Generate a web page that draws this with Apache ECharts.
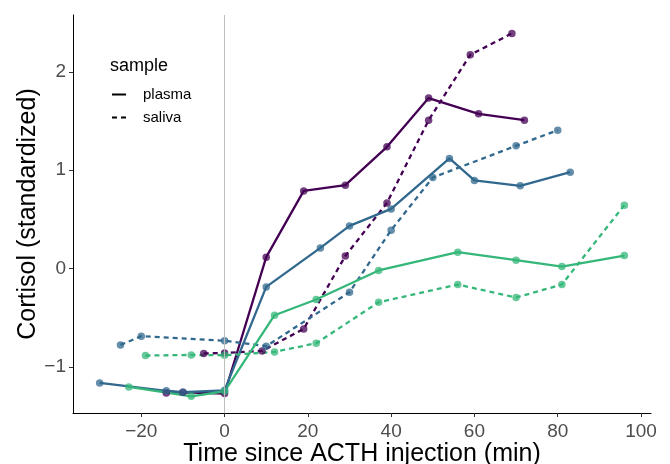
<!DOCTYPE html>
<html>
<head>
<meta charset="utf-8">
<script src="https://cdn.jsdelivr.net/npm/echarts@6/dist/echarts.min.js"></script>
<style>html,body{margin:0;padding:0;background:#fff;overflow:hidden;}#c{position:absolute;left:0;top:0;width:670px;height:464px;}</style>
</head>
<body>
<div id="c"></div>
<script>
// Subject 1 (purple)
const timePurplePlasma = [-14, -10, 0, 10, 19, 29, 39, 49, 61, 72];
const cortPurplePlasma = [-1.265, -1.258, -1.271, 0.115, 0.789, 0.847, 1.237, 1.732, 1.572, 1.508];
const timePurpleSaliva = [-5, 0, 9, 19, 29, 39, 49, 59, 69];
const cortPurpleSaliva = [-0.864, -0.858, -0.838, -0.614, 0.128, 0.667, 1.508, 2.172, 2.390];
// Subject 2 (blue)
const timeBluePlasma = [-30, -14, -10, 0, 10, 23, 30, 40, 54, 60, 71, 83];
const cortBluePlasma = [-1.163, -1.243, -1.258, -1.238, -0.187, 0.209, 0.433, 0.606, 1.119, 0.895, 0.840, 0.979];
const timeBlueSaliva = [-25, -20, 0, 10, 30, 40, 50, 70, 80];
const cortBlueSaliva = [-0.777, -0.688, -0.734, -0.790, -0.241, 0.390, 0.925, 1.247, 1.406];
// Subject 3 (green)
const timeGreenPlasma = [-23, -8, 0, 12, 22, 37, 56, 70, 81, 96];
const cortGreenPlasma = [-1.204, -1.299, -1.248, -0.475, -0.315, -0.020, 0.166, 0.084, 0.020, 0.132];
const timeGreenSaliva = [-19, -8, 0, 12, 22, 37, 56, 70, 81, 96];
const cortGreenSaliva = [-0.885, -0.879, -0.882, -0.848, -0.760, -0.343, -0.163, -0.295, -0.163, 0.644];

const xTicks = [-20, 0, 20, 40, 60, 80, 100];
const yTicks = [-1, 0, 1, 2];
const sampleTypes = ['plasma', 'saliva'];

const FONT = '"Liberation Sans", Arial, Helvetica, sans-serif';
const COLORS = { purple: '#440154', blue: '#31688E', green: '#35B779' };
const DASH = [5, 4];

function pairs(t, v) { return t.map((x, i) => [x, v[i]]); }
function minus(v) { return String(v).replace('-', '\u2212'); }

const groups = [
  { c: COLORS.purple, t: timePurplePlasma, v: cortPurplePlasma, dashed: false },
  { c: COLORS.purple, t: timePurpleSaliva, v: cortPurpleSaliva, dashed: true },
  { c: COLORS.blue, t: timeBluePlasma, v: cortBluePlasma, dashed: false },
  { c: COLORS.blue, t: timeBlueSaliva, v: cortBlueSaliva, dashed: true },
  { c: COLORS.green, t: timeGreenPlasma, v: cortGreenPlasma, dashed: false },
  { c: COLORS.green, t: timeGreenSaliva, v: cortGreenSaliva, dashed: true }
];

const series = [];
series.push({
  type: 'line', name: 'ref', data: [], z: 1, silent: true,
  markLine: {
    silent: true, symbol: ['none', 'none'], label: { show: false },
    lineStyle: { color: '#BEBEBE', width: 1, type: 'solid' },
    emphasis: { disabled: true },
    data: [{ xAxis: 0 }]
  }
});
groups.forEach((g, i) => {
  series.push({
    type: 'line', name: 'line' + i, data: pairs(g.t, g.v), z: 2,
    showSymbol: false, symbol: 'none', silent: true,
    lineStyle: { color: g.c, width: 2.3, type: g.dashed ? DASH : 'solid', cap: 'butt' },
    emphasis: { disabled: true }
  });
});
groups.forEach((g, i) => {
  series.push({
    type: 'scatter', name: 'pt' + i, data: pairs(g.t, g.v), z: 3,
    symbol: 'circle', symbolSize: 7.5, silent: true,
    itemStyle: { color: g.c, opacity: 0.75 },
    emphasis: { disabled: true }
  });
});
sampleTypes.forEach((s, i) => {
  series.push({
    type: 'line', name: s, data: [], symbol: 'none',
    lineStyle: { color: '#000', width: 2.3, type: i === 0 ? 'solid' : DASH },
    itemStyle: { color: '#000', opacity: 0 }
  });
});

const el = document.getElementById('c');
const chart = echarts.init(el, null, { renderer: 'canvas' });
chart.setOption({
  animation: false,
  backgroundColor: '#fff',
  textStyle: { fontFamily: FONT },
  grid: { left: 73, right: 19, top: 15, bottom: 51, containLabel: false, outerBoundsMode: 'none' },
  title: {
    text: 'sample', left: 110, top: 57, padding: 0,
    textStyle: { fontFamily: FONT, fontSize: 18, fontWeight: 'normal', color: '#000' }
  },
  legend: {
    data: sampleTypes, orient: 'vertical', left: 111, top: 87, padding: 0,
    itemWidth: 14, itemHeight: 14, itemGap: 8,
    itemStyle: { opacity: 0 },
    textStyle: { fontFamily: FONT, fontSize: 15, color: '#000', padding: [0, 0, 0, 12] },
    selectedMode: false
  },
  xAxis: {
    type: 'value', min: -36.4, max: 102.4,
    name: 'Time since ACTH injection (min)', nameLocation: 'middle', nameGap: 29, nameMoveOverlap: false,
    nameTextStyle: { fontFamily: FONT, fontSize: 25, color: '#000' },
    axisLine: { show: true, onZero: false, lineStyle: { color: '#000', width: 1 } },
    axisTick: { show: true, customValues: xTicks, length: 4, lineStyle: { color: '#333', width: 1 } },
    axisLabel: { customValues: xTicks, formatter: minus, margin: 9, fontFamily: FONT, fontSize: 19, color: '#4D4D4D' },
    splitLine: { show: false }
  },
  yAxis: {
    type: 'value', min: -1.469, max: 2.577,
    name: 'Cortisol (standardized)', nameLocation: 'middle', nameGap: 32, nameRotate: 90, nameMoveOverlap: false,
    nameTextStyle: { fontFamily: FONT, fontSize: 25, color: '#000' },
    axisLine: { show: true, onZero: false, lineStyle: { color: '#000', width: 1 } },
    axisTick: { show: true, customValues: yTicks, length: 4, lineStyle: { color: '#333', width: 1 } },
    axisLabel: { customValues: yTicks, formatter: minus, margin: 7, fontFamily: FONT, fontSize: 19, color: '#4D4D4D' },
    splitLine: { show: false }
  },
  series: series
});
</script>
</body>
</html>
